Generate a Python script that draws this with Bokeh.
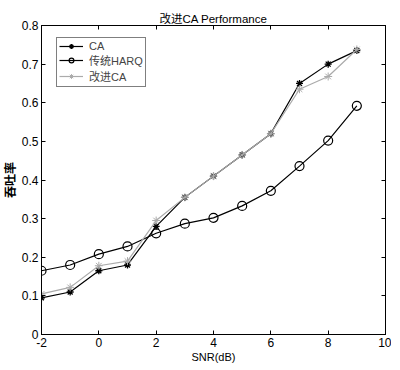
from bokeh.plotting import figure
from bokeh.models import LinearAxis, FixedTicker, Range1d
from bokeh.embed import file_html
from bokeh.resources import INLINE

snr = [-2, -1, 0, 1, 2, 3, 4, 5, 6, 7, 8, 9]
ca = [0.095, 0.110, 0.165, 0.180, 0.280, 0.355, 0.410, 0.465, 0.520, 0.650, 0.700, 0.735]
harq = [0.165, 0.180, 0.208, 0.228, 0.262, 0.287, 0.302, 0.333, 0.372, 0.436, 0.502, 0.592]
ca_improved = [0.105, 0.122, 0.178, 0.190, 0.295, 0.355, 0.410, 0.465, 0.520, 0.635, 0.668, 0.738]

x_ticks = [-2, 0, 2, 4, 6, 8, 10]
y_ticks = [0, 0.1, 0.2, 0.3, 0.4, 0.5, 0.6, 0.7, 0.8]

title_text = "改进CA Performance"
x_label = "SNR(dB)"
y_label = "吞吐率"
names = ["CA", "传统HARQ", "改进CA"]

CJK = "Noto Sans CJK SC"
LAT = "Liberation Sans"
MIX = "'Liberation Sans', 'Noto Sans CJK SC'"

p = figure(frame_width=344, frame_height=309, output_backend="svg", toolbar_location=None,
           x_range=Range1d(-2, 10), y_range=Range1d(0, 0.8),
           min_border_left=30, min_border_right=6, min_border_top=25, min_border_bottom=10)

p.title.text = title_text
p.title.align = "center"
p.title.text_font = MIX
p.title.text_font_size = "11.5px"
p.title.text_font_style = "normal"
p.title.text_color = "black"
p.title.standoff = 2

p.grid.visible = False
p.outline_line_color = "black"
p.outline_line_width = 1

for ax in [p.xaxis[0], p.yaxis[0]]:
    ax.major_tick_in = 4
    ax.major_tick_out = 0
    ax.minor_tick_in = 0
    ax.minor_tick_out = 0
    ax.major_label_text_font = LAT
    ax.major_label_text_font_size = "12px"
    ax.major_label_text_color = "black"
    ax.axis_line_color = "black"
    ax.major_tick_line_color = "black"
    ax.axis_label_text_font = LAT
    ax.axis_label_text_font_size = "11px"
    ax.axis_label_text_font_style = "normal"
    ax.axis_label_text_color = "black"
    ax.major_label_standoff = 3
    ax.axis_label_standoff = 1

p.xaxis[0].ticker = FixedTicker(ticks=x_ticks)
p.yaxis[0].ticker = FixedTicker(ticks=y_ticks)
p.xaxis[0].axis_label = x_label
p.yaxis[0].axis_label = y_label
p.yaxis[0].axis_label_text_font = MIX
p.yaxis[0].axis_label_text_font_style = "bold"
p.yaxis[0].axis_label_text_font_size = "12px"
p.yaxis[0].axis_label_standoff = 1
p.yaxis[0].major_label_standoff = 3
p.yaxis[0].major_label_overrides = {0: "0"}
p.xaxis[0].major_label_overrides = {-2: "-2"}

top = LinearAxis(ticker=FixedTicker(ticks=x_ticks),
                 major_label_overrides={t: "" for t in x_ticks},
                 major_tick_in=4, major_tick_out=0, minor_tick_in=0, minor_tick_out=0,
                 major_label_standoff=0, axis_line_color="black")
right = LinearAxis(ticker=FixedTicker(ticks=y_ticks),
                   major_label_overrides={t: "" for t in y_ticks},
                   major_tick_in=4, major_tick_out=0, minor_tick_in=0, minor_tick_out=0,
                   major_label_standoff=0, axis_line_color="black")
p.add_layout(top, "above")
p.add_layout(right, "right")

gray = "#ababab"
p.line(snr, ca, color="black", line_width=1.2, legend_label=names[0])
p.scatter(snr, ca, marker="asterisk", size=7, line_color="black", line_width=1.3, legend_label=names[0])

p.line(snr, harq, color="black", line_width=1.2, legend_label=names[1])
p.scatter(snr, harq, marker="circle", size=9, line_color="black", fill_color=None, line_width=1.2, legend_label=names[1])

p.line(snr, ca_improved, color=gray, line_width=1.2, legend_label=names[2])
p.scatter(snr, ca_improved, marker="asterisk", size=8, line_color=gray, legend_label=names[2])

lg = p.legend[0]
lg.location = (15, 247)
lg.margin = 0
lg.border_line_color = "black"
lg.border_line_width = 1
lg.label_text_font = MIX
lg.label_text_font_size = "11px"
lg.label_height = 12
lg.glyph_height = 12
lg.glyph_width = 24
lg.spacing = 0
lg.padding = 2
lg.label_standoff = 6
lg.background_fill_alpha = 1

open("out.html", "w").write(file_html(p, INLINE))
